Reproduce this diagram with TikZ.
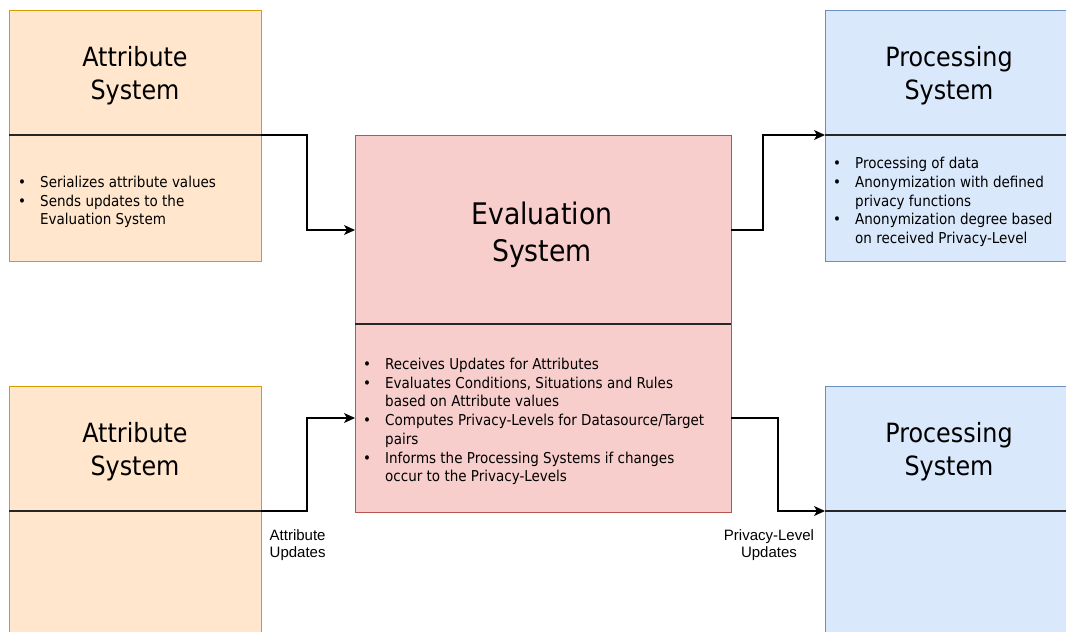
\documentclass[tikz,border=0pt]{standalone}
\usepackage{fontspec}
\setmainfont{DejaVu Sans Condensed}
\newfontfamily\lblfont{Liberation Sans}
\usetikzlibrary{arrows.meta}
\definecolor{attrfill}{HTML}{FFE6CC}
\definecolor{attrline}{HTML}{D79B00}
\definecolor{procfill}{HTML}{DAE8FC}
\definecolor{procline}{HTML}{6C8EBF}
\definecolor{evalfill}{HTML}{F8CECC}
\definecolor{evalline}{HTML}{B85450}
\newcommand\bitem[1]{\makebox[22pt][l]{\textbullet}#1}
\newcommand\citem[1]{\hspace*{22pt}#1}
\tikzset{
  sysbox/.style={line width=1.1pt, inner sep=0pt, anchor=north west},
  attrbox/.style={sysbox, draw=attrline, fill=attrfill},
  procbox/.style={sysbox, draw=procline, fill=procfill},
  evalbox/.style={sysbox, draw=evalline, fill=evalfill},
  divider/.style={line width=1.2pt, draw=black!85},
  sidetitle/.style={align=center, inner sep=0pt, font=\fontsize{26.5}{33}\selectfont},
  evaltitle/.style={align=center, inner sep=0pt, font=\fontsize{29.7}{37}\selectfont},
  bodytext/.style={align=left, inner sep=0pt, anchor=west, font=\fontsize{15}{18.7}\selectfont},
  edgelabel/.style={inner sep=0pt, font=\lblfont\fontsize{15}{17.7}\selectfont},
  arr/.style={line width=1.2pt, draw=black, -{Stealth[length=11pt,width=10pt,inset=3pt]}},
}
\begin{document}
\begin{tikzpicture}[x=1pt,y=-1pt]
\useasboundingbox (0,0) rectangle (1066,632);
\clip (0,0) rectangle (1066,632);

% boxes
\node[attrbox, minimum width=252pt, minimum height=251pt] (a1) at (9,10) {};
\node[attrbox, minimum width=252pt, minimum height=300pt] (a2) at (9,386) {};
\node[procbox, minimum width=300pt, minimum height=251pt] (p1) at (825,10) {};
\node[procbox, minimum width=300pt, minimum height=300pt] (p2) at (825,386) {};
\node[evalbox, minimum width=376pt, minimum height=377pt] (e) at (355,135) {};

% dividers
\coordinate (a1l) at (9,135);   \coordinate (a1r) at (261,135);
\coordinate (a2l) at (9,511);   \coordinate (a2r) at (261,511);
\coordinate (p1l) at (825,135); \coordinate (p1r) at (1080,135);
\coordinate (p2l) at (825,511); \coordinate (p2r) at (1080,511);
\coordinate (el) at (355,324);  \coordinate (er) at (731,324);
\draw[divider] (a1l) -- (a1r);
\draw[divider] (a2l) -- (a2r);
\draw[divider] (p1l) -- (p1r);
\draw[divider] (p2l) -- (p2r);
\draw[divider] (el) -- (er);

% titles
\node[sidetitle] (a1t) at (135,76) {Attribute\\System};
\node[sidetitle] (a2t) at (135,452) {Attribute\\System};
\node[sidetitle] (p1t) at (949,76) {Processing\\System};
\node[sidetitle] (p2t) at (949,452) {Processing\\System};
\node[evaltitle] (et) at (542,234.5) {Evaluation\\System};

% bodies
\node[bodytext] (a1b) at (18,202) {\bitem{Serializes attribute values}\\\bitem{Sends updates to the}\\\citem{Evaluation System}};
\node[bodytext] (p1b) at (833,202) {\bitem{Processing of data}\\\bitem{Anonymization with defined}\\\citem{privacy functions}\\\bitem{Anonymization degree based}\\\citem{on received Privacy-Level}};
\node[bodytext] (eb) at (363,421.5) {\bitem{Receives Updates for Attributes}\\\bitem{Evaluates Conditions, Situations and Rules}\\\citem{based on Attribute values}\\\bitem{Computes Privacy-Levels for Datasource/Target}\\\citem{pairs}\\\bitem{Informs the Processing Systems if changes}\\\citem{occur to the Privacy-Levels}};

% connectors
\coordinate (ein1) at (355,230);
\coordinate (ein2) at (355,418);
\coordinate (eout1) at (731,230);
\coordinate (eout2) at (731,418);
\draw[arr] (a1r) -- (307,135) |- (ein1);
\draw[arr] (eout1) -- (763,230) |- (p1l);
\draw[arr] (a2r) -- (307,511) |- (ein2);
\draw[arr] (eout2) -- (778,418) |- (p2l);

% edge labels
\node[edgelabel, align=left, anchor=north west] (l1) at (269.5,529) {Attribute\\Updates};
\node[edgelabel, align=center, anchor=north] (l2) at (769,529) {Privacy-Level\\Updates};
\end{tikzpicture}
\end{document}
